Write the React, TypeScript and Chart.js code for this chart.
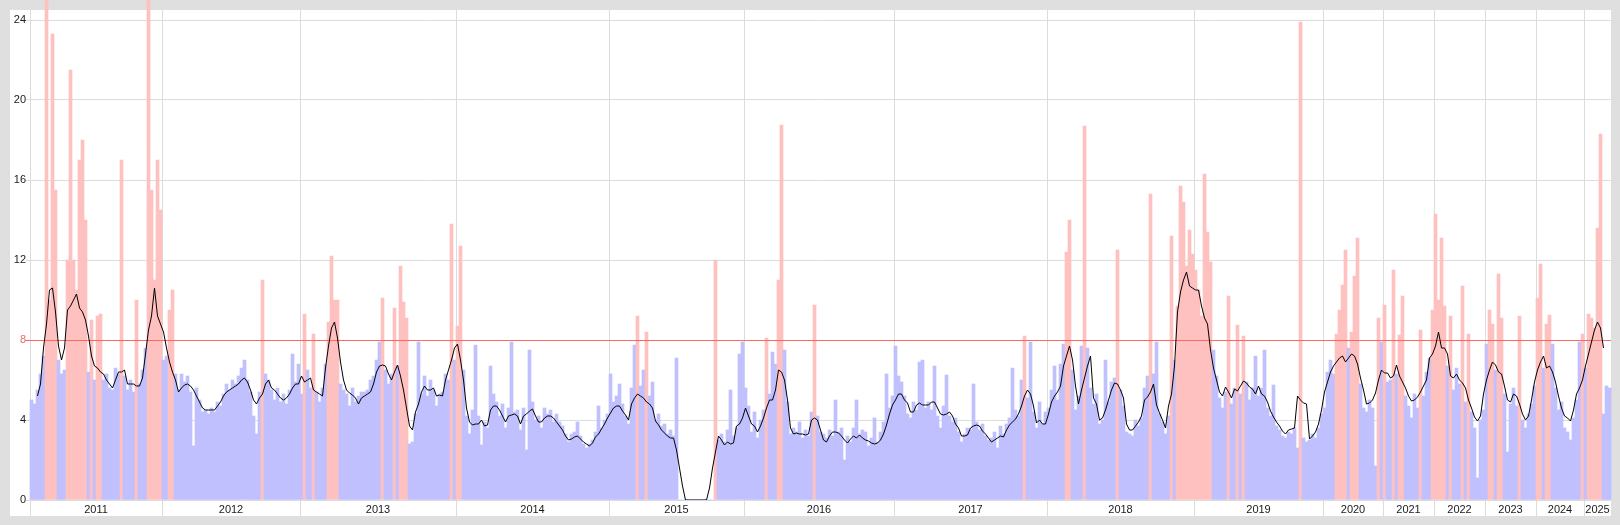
import React, { useEffect, useRef } from "react";
import { Chart, registerables } from "chart.js";

Chart.register(...registerables);

const YEARS = [2011, 2012, 2013, 2014, 2015, 2016, 2017, 2018, 2019, 2020, 2021, 2022, 2023, 2024, 2025];
const THRESHOLD = 8;
const Y_TICKS = [0, 4, 8, 12, 16, 20, 24];

// daily values (bars) per year
const bars2011 = [5.0, 4.8, 5.5, 6.3, 7.2, 26, 10, 23.3, 15.5, 7.0, 6.3, 6.5, 12, 21.5, 12, 10.5, 17, 18, 14, 6.4, 9, 6.0, 9.2, 9.3, 6.0, 6.3, 5.6, 5.5, 6.6, 6.3, 17, 6.2, 5.5, 6.0, 5.4, 10, 5.8, 6.5, 7.6, 26, 15.5, 11, 17, 14.5];
const bars2012 = [7.0, 7.2, 9.5, 10.5, 6.3, 5.5, 6.3, 5.9, 6.2, 5.4, 2.7, 5.6, 5.0, 4.4, 4.5, 4.3, 4.6, 4.4, 4.9, 4.7, 5.3, 5.8, 5.5, 6.0, 5.8, 6.2, 6.6, 7.0, 6.0, 5.4, 4.2, 3.3, 5.4, 11, 6.3, 6.0, 5.5, 5.0, 5.6, 4.9, 5.3, 4.8, 5.5, 7.3, 5.9, 6.8];
const bars2013 = [5.3, 9.3, 6.5, 5.6, 8.3, 5.4, 4.9, 5.6, 6.8, 8.9, 12.2, 10, 10, 5.8, 5.5, 5.3, 4.7, 5.6, 4.9, 5.2, 5.4, 5.4, 5.5, 6.0, 6.2, 7.0, 7.9, 10.1, 6.5, 5.8, 6.3, 9.6, 6.7, 11.7, 9.9, 9.1, 2.8, 2.9, 4.3, 7.9, 5.3, 6.2, 5.2, 6.0, 5.5, 4.7, 5.3, 5.4, 6.3, 6.0, 13.8, 7.0];
const bars2014 = [8.7, 12.7, 6.5, 4.2, 3.3, 4.5, 7.75, 4.2, 2.75, 3.9, 3.6, 6.7, 5.3, 4.9, 4.2, 4.8, 3.6, 4.6, 7.9, 4.4, 4.5, 3.5, 4.6, 2.5, 7.5, 4.9, 4.0, 4.2, 3.6, 4.6, 4.3, 4.5, 3.9, 4.3, 3.9, 3.7, 3.3, 2.9, 3.3, 3.4, 3.9, 3.2, 2.8, 2.6, 2.8, 3.0, 3.4, 4.7, 3.6, 4.0, 4.3];
const bars2015 = [6.3, 4.9, 5.2, 5.8, 4.8, 4.2, 3.8, 5.6, 7.75, 9.2, 5.7, 6.5, 8.4, 5.2, 5.9, 4.0, 4.3, 3.7, 3.8, 3.3, 3.5, 3.2, 7.1, 0, 0, 0, 0, 0, 0, 0, 0, 0, 0, 0, 0, 12, 3.0, 3.3, 2.9, 3.5, 5.5, 3.2, 3.6, 7.3, 7.9];
const bars2016 = [5.6, 4.7, 3.4, 4.4, 3.1, 4.0, 4.5, 8.1, 5.3, 7.4, 6.8, 11, 18.75, 7.5, 4.9, 3.3, 3.6, 3.4, 3.9, 3.1, 3.5, 3.2, 4.4, 9.75, 4.2, 3.4, 3.3, 3.1, 3.5, 3.2, 5.0, 3.4, 3.6, 2.0, 3.2, 2.9, 3.6, 5.0, 3.3, 3.5, 3.4, 2.7, 3.1, 4.1, 2.9, 3.4, 3.9, 6.3, 4.6, 5.2];
const bars2017 = [7.7, 6.2, 5.9, 5.2, 4.3, 4.1, 4.9, 4.5, 6.9, 7.0, 4.6, 4.9, 4.5, 6.7, 4.2, 3.6, 4.7, 6.25, 4.2, 3.9, 4.1, 3.4, 2.9, 3.3, 3.6, 3.5, 5.8, 3.9, 3.5, 3.8, 3.2, 3.0, 3.1, 3.4, 2.6, 3.7, 3.3, 3.8, 4.1, 6.6, 4.5, 4.2, 6.0, 8.2, 5.1, 7.9, 4.4, 3.6, 4.9, 3.8, 4.4];
const bars2018 = [4.6, 5.5, 6.7, 5.0, 6.8, 7.8, 12.4, 14, 6.5, 4.5, 5.2, 7.7, 18.7, 7.6, 5.6, 4.8, 5.3, 3.8, 4.0, 7.0, 4.9, 5.9, 6.1, 12.5, 5.5, 4.7, 3.4, 3.3, 3.2, 4.0, 3.7, 4.1, 5.6, 6.2, 15.3, 6.3, 7.9, 4.3, 3.9, 3.3, 4.2, 13.2, 7.0, 9.7, 15.7, 14.9, 11.7, 13.5, 12.3];
const bars2019 = [11.5, 10.5, 9.2, 16.3, 13.4, 11.9, 7.5, 6.2, 5.1, 4.6, 5.4, 10.2, 4.8, 5.6, 8.75, 5.3, 8.2, 5.9, 5.0, 5.6, 7.2, 5.2, 5.6, 7.5, 4.6, 4.2, 5.75, 3.7, 3.5, 3.2, 3.1, 3.4, 3.3, 3.6, 2.6, 23.9, 3.1, 2.9, 3.0, 3.3, 3.1, 3.6, 4.3];
const bars2020 = [4.6, 6.4, 7.0, 6.3, 8.3, 9.5, 10.75, 12.5, 7.6, 8.4, 11.2, 13.1, 5.8, 4.6, 4.4, 5.0, 4.6, 1.7, 9.1, 7.9];
const bars2021 = [9.75, 5.9, 6.0, 11.5, 6.3, 8.25, 10.2, 5.2, 4.7, 4.1, 5.3, 4.6, 8.5, 5.2, 6.4, 7.1, 9.5];
const bars2022 = [14.3, 10, 13.1, 9.7, 6.7, 9.2, 5.5, 6.6, 5.8, 10.7, 4.9, 8.3, 4.4, 3.6, 1.1, 4.0, 4.5];
const bars2023 = [7.8, 9.5, 8.8, 6.5, 11.3, 9.1, 5.3, 2.4, 4.8, 5.6, 4.7, 9.2, 4.0, 3.6, 4.3, 4.8, 5.7];
const bars2024 = [10.1, 11.8, 6.6, 8.8, 9.25, 7.8, 5.6, 4.5, 4.9, 3.6, 3.4, 3.0, 4.1, 5.0, 7.9, 8.3];
const bars2025 = [6.6, 9.3, 9.1, 8.6, 13.6, 18.3, 4.3, 5.7, 5.6];

// moving average (line) per year
const avg2011 = [null, null, 5.2, 5.8, 7.6, 8.8, 10.5, 10.6, 9.4, 7.7, 7.0, 7.6, 9.5, 9.7, 10.0, 10.3, 9.6, 9.4, 9.0, 8.2, 7.2, 6.7, 6.6, 6.4, 6.3, 6.0, 5.8, 5.6, 6.0, 6.4, 6.4, 6.5, 5.8, 5.8, 5.8, 5.7, 5.7, 6.1, 7.3, 8.5, 9.2, 10.6, 9.2, 8.8];
const avg2012 = [8.4, 7.6, 6.9, 6.4, 6.0, 5.4, 5.6, 5.75, 5.8, 5.7, 5.5, 5.2, 4.9, 4.6, 4.5, 4.5, 4.5, 4.5, 4.7, 4.9, 5.2, 5.4, 5.5, 5.6, 5.7, 5.8, 6.0, 6.1, 5.9, 5.5, 5.0, 4.8, 5.1, 5.3, 5.8, 6.0, 5.6, 5.5, 5.3, 5.1, 5.0, 5.1, 5.3, 5.6, 5.8, 5.8];
const avg2013 = [6.2, 5.9, 6.0, 6.1, 5.5, 5.4, 5.3, 5.2, 6.6, 7.7, 8.6, 8.9, 8.1, 6.9, 6.0, 5.5, 5.35, 5.25, 5.1, 4.8, 5.1, 5.2, 5.3, 5.4, 5.8, 6.4, 6.7, 6.75, 6.7, 6.3, 6.0, 6.4, 6.75, 6.2, 5.5, 4.6, 3.7, 3.5, 4.4, 4.8, 5.4, 5.7, 5.5, 5.5, 5.6, 5.2, 5.25, 5.2, 6.0, 6.5, 7.0, 7.6];
const avg2014 = [7.8, 7.0, 6.0, 4.6, 3.9, 3.75, 3.8, 3.8, 4.0, 3.7, 3.75, 4.5, 4.7, 4.7, 4.5, 4.2, 3.9, 4.2, 4.25, 4.3, 4.2, 3.8, 4.2, 4.3, 4.45, 4.55, 4.2, 3.9, 3.9, 4.1, 4.2, 4.2, 4.1, 3.9, 3.7, 3.5, 3.2, 3.0, 3.05, 3.15, 3.2, 3.05, 2.9, 2.8, 2.7, 2.85, 3.15, 3.3, 3.55, 3.8, 4.1];
const avg2015 = [4.35, 4.6, 4.7, 4.7, 4.45, 4.25, 4.0, 4.8, 5.1, 5.3, 5.2, 5.1, 4.9, 4.8, 4.6, 3.95, 3.75, 3.5, 3.35, 3.2, 3.1, 3.1, 2.5, 1.6, 0.7, 0, 0, 0, 0, 0, 0, 0, 0, 0.6, 1.6, 2.4, 3.2, 3.0, 2.75, 2.9, 2.8, 2.85, 3.7, 3.8, 4.1];
const avg2016 = [4.6, 4.2, 3.8, 3.7, 3.4, 3.7, 4.1, 4.6, 5.0, 5.0, 5.5, 6.5, 6.4, 6.0, 5.0, 3.6, 3.3, 3.35, 3.3, 3.3, 3.25, 3.3, 4.0, 4.1, 4.0, 3.5, 3.0, 2.9, 3.2, 3.4, 3.4, 3.35, 3.2, 3.0, 2.85, 3.05, 3.2, 3.1, 3.25, 3.1, 3.0, 2.95, 2.85, 2.8, 2.85, 3.0, 3.3, 3.75, 4.3, 4.75];
const avg2017 = [5.0, 5.3, 5.3, 5.0, 4.85, 4.4, 4.4, 4.75, 4.85, 4.75, 4.75, 4.75, 4.9, 4.9, 4.6, 4.3, 4.25, 4.3, 4.4, 4.2, 3.8, 3.6, 3.2, 3.2, 3.25, 3.6, 3.7, 3.75, 3.7, 3.45, 3.3, 3.1, 2.9, 3.0, 3.1, 3.2, 3.15, 3.5, 3.75, 3.9, 4.05, 4.3, 4.7, 5.2, 5.5, 5.3, 4.7, 3.85, 4.0, 3.8, 3.8];
const avg2018 = [4.3, 4.9, 5.2, 5.4, 5.7, 6.7, 7.2, 7.7, 7.0, 5.7, 4.8, 5.5, 6.1, 6.7, 7.2, 5.1, 4.8, 4.0, 4.1, 4.5, 5.0, 5.5, 5.85, 5.8, 5.5, 5.1, 3.8, 3.5, 3.5, 3.7, 3.9, 4.2, 5.0, 5.15, 5.4, 5.8, 4.75, 4.35, 4.0, 3.6, 4.7, 5.3, 6.7, 9.4, 10.4, 11.0, 11.4, 10.7, 10.6];
const avg2019 = [10.5, 10.5, 9.7, 9.1, 8.8, 7.5, 6.6, 6.0, 5.4, 5.2, 5.65, 5.4, 5.1, 5.55, 5.45, 5.7, 5.95, 5.85, 5.65, 5.55, 5.3, 5.7, 5.3, 5.2, 4.9, 4.45, 4.15, 3.9, 3.7, 3.45, 3.3, 3.5, 3.55, 3.6, 5.2, 5.0, 4.85, 4.8, 3.05, 3.2, 3.4, 3.8, 4.5];
const avg2020 = [5.4, 5.9, 6.4, 6.7, 6.9, 7.1, 7.2, 6.9, 7.1, 7.3, 7.2, 6.8, 6.1, 5.5, 4.8, 4.85, 5.0, 5.35, 6.0, 6.5];
const avg2021 = [6.35, 6.35, 6.1, 6.2, 6.75, 6.2, 5.9, 5.6, 5.2, 4.95, 5.0, 5.15, 5.4, 5.7, 6.0, 7.1, 7.3];
const avg2022 = [7.7, 8.4, 7.6, 7.6, 7.3, 6.2, 6.1, 6.3, 6.0, 5.85, 5.6, 5.0, 4.6, 4.15, 3.95, 4.2, 5.3];
const avg2023 = [6.0, 6.5, 6.9, 6.75, 6.4, 6.3, 5.7, 5.0, 4.9, 5.3, 5.2, 4.8, 4.3, 4.0, 4.2, 5.0, 5.9];
const avg2024 = [6.5, 6.9, 7.2, 6.6, 6.7, 6.4, 5.9, 5.2, 4.6, 4.2, 4.1, 3.95, 4.5, 5.3, 5.6, 6.0];
const avg2025 = [6.7, 7.3, 7.9, 8.5, 8.9, 8.6, 7.6, null, null];

const BARS_BY_YEAR = [bars2011, bars2012, bars2013, bars2014, bars2015, bars2016, bars2017, bars2018, bars2019, bars2020, bars2021, bars2022, bars2023, bars2024, bars2025];
const AVG_BY_YEAR = [avg2011, avg2012, avg2013, avg2014, avg2015, avg2016, avg2017, avg2018, avg2019, avg2020, avg2021, avg2022, avg2023, avg2024, avg2025];

const FONT = '"Liberation Sans", Arial, sans-serif';
const BLUE = "#c0c0ff";
const PINK = "#ffc0c0";
const GRID = "#dcdcdc";

export default function App() {
  const ref = useRef<HTMLCanvasElement>(null);

  useEffect(() => {
    document.body.style.margin = "0";
    const labels: string[] = [];
    const yearStarts: number[] = [];
    YEARS.forEach((y, k) => {
      yearStarts.push(labels.length);
      BARS_BY_YEAR[k].forEach((_, j) => labels.push(`${y}-${j + 1}`));
    });
    const barData = BARS_BY_YEAR.flat();
    const avgData = AVG_BY_YEAR.flat();
    const barColors = barData.map((v) => (v > THRESHOLD ? PINK : BLUE));

    const framePlugin = {
      id: "frame",
      beforeDraw(chart: any) {
        const c = chart.ctx;
        c.save();
        c.fillStyle = "#dfdfdf";
        c.fillRect(0, 0, chart.width, chart.height);
        c.fillStyle = "#ffffff";
        c.fillRect(10, 10, 1601, 506);
        c.restore();
      },
      beforeDatasetsDraw(chart: any) {
        const c = chart.ctx;
        const xs = chart.scales.x;
        const half = (xs.getPixelForValue(1) - xs.getPixelForValue(0)) / 2;
        c.save();
        c.strokeStyle = GRID;
        c.lineWidth = 1;
        yearStarts.forEach((s) => {
          const x = Math.round(xs.getPixelForValue(s) - half) + 0.5;
          c.beginPath();
          c.moveTo(x, 10);
          c.lineTo(x, 516);
          c.stroke();
        });
        c.fillStyle = "#1a1a1a";
        c.font = `11px ${FONT}`;
        c.textAlign = "center";
        c.textBaseline = "middle";
        YEARS.forEach((y, k) => {
          const s = yearStarts[k];
          const len = BARS_BY_YEAR[k].length;
          const x = xs.getPixelForValue(s + (len - 1) / 2);
          c.fillText(String(y), x, 510);
        });
        c.restore();
      },
      afterDatasetDraw(chart: any, args: any) {
        if (args.index !== 0) return;
        const c = chart.ctx;
        const y = Math.round(chart.scales.y.getPixelForValue(THRESHOLD)) + 0.5;
        c.save();
        c.strokeStyle = "#ff6666";
        c.lineWidth = 1;
        c.beginPath();
        c.moveTo(25, y);
        c.lineTo(chart.chartArea.right, y);
        c.stroke();
        c.restore();
      },
    };

    const chart = new Chart(ref.current as HTMLCanvasElement, {
      type: "bar",
      data: {
        labels,
        datasets: [
          {
            type: "bar",
            data: barData,
            backgroundColor: barColors,
            borderWidth: 0,
            barPercentage: 1,
            categoryPercentage: 1,
            clip: false as any,
            order: 1,
          },
          {
            type: "line",
            data: avgData as any,
            borderColor: "#000000",
            borderWidth: 1,
            pointRadius: 0,
            tension: 0,
            spanGaps: false,
            order: 0,
          },
        ],
      },
      options: {
        animation: false,
        responsive: false,
        devicePixelRatio: 1,
        layout: { padding: { top: 20, right: 9, bottom: 25, left: 0 } },
        plugins: { legend: { display: false }, tooltip: { enabled: false } },
        events: [],
        scales: {
          x: { type: "category", display: false, offset: true },
          y: {
            min: 0,
            max: 24,
            afterBuildTicks: (s: any) => {
              s.ticks = Y_TICKS.map((v) => ({ value: v }));
            },
            afterFit: (s: any) => {
              s.width = 30;
            },
            ticks: {
              padding: 0,
              font: { family: FONT, size: 11 },
              color: (ctx: any) => (ctx.tick && ctx.tick.value === THRESHOLD ? "#e07070" : "#1a1a1a"),
            },
            grid: { color: GRID, tickLength: 4, drawTicks: true },
            border: { display: false },
          },
        },
      },
      plugins: [framePlugin],
    });
    return () => chart.destroy();
  }, []);

  return <canvas ref={ref} width={1620} height={525} style={{ display: "block", width: 1620, height: 525 }} />;
}
